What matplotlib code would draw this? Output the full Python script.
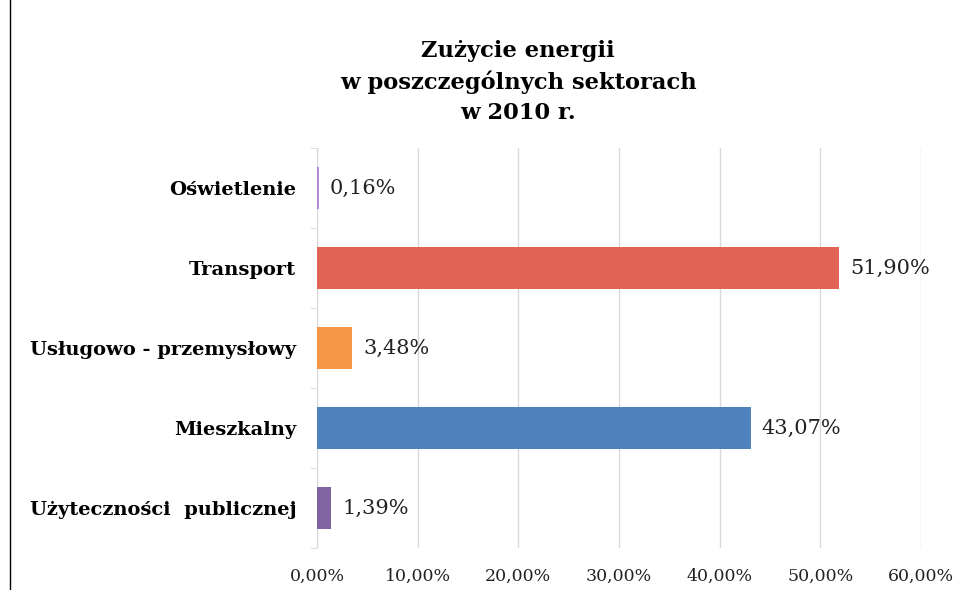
import matplotlib.pyplot as plt
from matplotlib.lines import Line2D

categories = ["Użyteczności  publicznej", "Mieszkalny", "Usługowo - przemysłowy", "Transport", "Oświetlenie"]
values = [1.39, 43.07, 3.48, 51.90, 0.16]
labels = ["1,39%", "43,07%", "3,48%", "51,90%", "0,16%"]
colors = ["#8064A2", "#4F81BD", "#F79646", "#E06355", "#B48AD8"]
xticks = [0, 10, 20, 30, 40, 50, 60]
xticklabels = ["0,00%", "10,00%", "20,00%", "30,00%", "40,00%", "50,00%", "60,00%"]

plt.rcParams["font.family"] = ["DejaVu Serif"]

fig = plt.figure(figsize=(9.61, 5.9), dpi=100)
ax = fig.add_axes([317 / 961, 1 - 548 / 590, (921 - 317) / 961, 400 / 590])

ypos = range(len(categories))
ax.barh(ypos, values, height=0.52, color=colors, zorder=3)
for y, v, lab in zip(ypos, values, labels):
    ax.annotate(lab, (v, y), xytext=(8, 0), textcoords="offset points",
                va="center", ha="left", fontsize=15, color="#222222")

ax.set_xlim(0, 60)
ax.set_ylim(-0.5, len(categories) - 0.5)
ax.set_xticks(xticks)
ax.set_xticklabels(xticklabels, fontsize=12.5, color="#222222")
ax.set_yticks(list(ypos))
ax.set_yticklabels(categories, fontsize=14, fontweight="bold")
ax.set_yticks([i - 0.5 for i in range(len(categories) + 1)], minor=True)
ax.tick_params(axis="y", which="major", length=0, pad=15)
ax.tick_params(axis="y", which="minor", length=5, color="#D9D9D9")
ax.tick_params(axis="x", length=0, pad=14)
ax.grid(axis="x", color="#D9D9D9", linewidth=1, zorder=0)
for s in ["top", "right", "bottom"]:
    ax.spines[s].set_visible(False)
ax.spines["left"].set_color("#D9D9D9")

fig.text(518 / 961, 1 - 82 / 590, "Zużycie energii\nw poszczególnych sektorach\nw 2010 r.",
         ha="center", va="center", fontsize=16.3, fontweight="bold", linespacing=1.45)

fig.add_artist(Line2D([10 / 961, 10 / 961], [0, 1], color="black", linewidth=1))

fig.savefig("out.png", dpi=100)
